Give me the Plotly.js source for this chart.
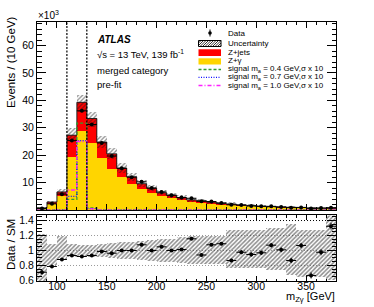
<!DOCTYPE html>
<html><head><meta charset="utf-8">
<script src="https://cdn.plot.ly/plotly-3.0.1.min.js"></script>
<style>html,body{margin:0;padding:0;background:#fff}#chart{width:374px;height:307px}</style>
</head><body><div id="chart"></div>
<script>
// ---- data (events in thousands, per 10 GeV bin) ----
const binEdges = [80,90,100,110,120,130,140,150,160,170,180,190,200,210,220,230,240,250,260,270,280,290,300,310,320,330,340,350,360,370,380];
const zGamma = [0.6,2.3,5.0,19.4,28.8,24.3,19.0,15.0,12.0,9.5,7.7,6.2,5.0,4.3,3.6,3.0,2.7,2.3,1.9,1.75,1.5,1.3,1.15,1.0,0.9,0.82,0.74,0.66,0.6,0.54];
const zJets  = [0.2,0.6,1.6,7.9,10.5,9.1,5.8,5.5,3.3,2.6,1.9,1.8,1.3,1.1,0.9,0.7,0.7,0.6,0.5,0.45,0.35,0.3,0.25,0.25,0.2,0.18,0.16,0.14,0.12,0.11];
const dataVals = [0.55,2.25,5.8,25.4,36.2,31.2,24.5,19.7,15.2,12.0,10.3,8.0,6.6,5.4,4.55,4.3,3.2,3.1,2.6,1.9,1.8,1.5,1.35,1.35,1.1,0.87,0.96,0.53,0.7,0.86];
const uncUp   = [0.22,0.09,0.19,0.09,0.07,0.07,0.09,0.10,0.11,0.12,0.13,0.14,0.15,0.16,0.18,0.20,0.20,0.20,0.20,0.28,0.28,0.28,0.28,0.30,0.30,0.35,0.27,0.27,0.27,0.47];
const uncDown = [0.45,0.20,0.13,0.09,0.09,0.09,0.09,0.10,0.11,0.12,0.13,0.14,0.15,0.16,0.17,0.18,0.18,0.18,0.18,0.24,0.24,0.24,0.24,0.26,0.26,0.33,0.36,0.36,0.36,0.40];
const ratioVals = [0.71,0.787,0.88,0.933,0.92,0.933,0.987,0.964,1.0,1.0,1.076,1.0,1.049,1.0,1.013,1.156,0.94,1.076,1.09,0.867,0.977,0.947,0.969,1.071,1.009,0.867,1.067,0.667,0.977,1.324];
const ratioErr = [0.03,0.015,0.01,0.006,0.005,0.006,0.007,0.008,0.009,0.01,0.011,0.012,0.013,0.014,0.015,0.016,0.018,0.019,0.02,0.023,0.025,0.027,0.029,0.03,0.032,0.035,0.035,0.04,0.04,0.045];
const sig04 = [0,0,0,3.9,31.7,0.8,0,0,0,0,0,0,0,0,0,0,0,0,0,0,0,0,0,0,0,0,0,0,0,0];
const sig07 = [0,0,0,5.0,25.3,0.5,0,0,0,0,0,0,0,0,0,0,0,0,0,0,0,0,0,0,0,0,0,0,0,0];
const sig10 = [0,0,0,7.3,25.0,0.4,0,0,0,0,0,0,0,0,0,0,0,0,0,0,0,0,0,0,0,0,0,0,0,0];
const srWindow = [110,130];
const yTicks = [10,20,30,40,50,60];
const yTickText = ['10','20','30','40','50','60'];
const rTicks = [0.6,0.8,1.0,1.2,1.4];
const rTickText = ['0.6','0.8','1','1.2','1.4'];
const refLines = [0.8,1.0,1.2,1.4];
const sigLabels = ['signal m<sub>a</sub> = 0.4 GeV,σ x 10','signal m<sub>a</sub> = 0.7 GeV,σ x 10','signal m<sub>a</sub> = 1.0 GeV,σ x 10'];

// ---- derived ----
const centers = binEdges.slice(0,-1).map((e,i)=>(e+binEdges[i+1])/2);
const widths = binEdges.slice(0,-1).map((e,i)=>binEdges[i+1]-e);
const total = zGamma.map((v,i)=>v+zJets[i]);
const step = arr => arr.concat([arr[arr.length-1]]);

const FONT = 'Liberation Sans, Arial, Helvetica, sans-serif';
const YEL = '#ffd500', RED = '#ff0000';
const GREEN = '#2f9e2f', BLUE = '#1010ff', MAG = '#ff20ff';
const hatch = {shape:'/', fgcolor:'#1a1a1a', size:3, solidity:0.42, fillmode:'overlay'};
const hatchR = {shape:'/', fgcolor:'#1a1a1a', size:3, solidity:0.5, fillmode:'overlay'};

const traces = [
  {type:'bar', x:centers, y:zGamma, base:0, width:widths, marker:{color:YEL, line:{width:0}}, xaxis:'x', yaxis:'y'},
  {type:'bar', x:centers, y:zJets, base:zGamma, width:widths, marker:{color:RED, line:{width:0}}, xaxis:'x', yaxis:'y'},
  {type:'bar', x:centers, y:total.map((t,i)=>t*(uncUp[i]+uncDown[i])), base:total.map((t,i)=>t*(1-uncDown[i])), width:widths,
   marker:{color:'rgba(0,0,0,0)', line:{width:0}, pattern:hatch}, xaxis:'x', yaxis:'y'},
  {type:'scatter', mode:'lines', x:binEdges, y:step(total), line:{shape:'hv', color:'#222', width:1}, xaxis:'x', yaxis:'y'},
  {type:'scatter', mode:'lines', x:binEdges, y:step(sig04), line:{shape:'hv', color:GREEN, width:1.3, dash:'3px,2px'}, xaxis:'x', yaxis:'y'},
  {type:'scatter', mode:'lines', x:binEdges, y:step(sig07), line:{shape:'hv', color:BLUE, width:1.3, dash:'1px,1.5px'}, xaxis:'x', yaxis:'y'},
  {type:'scatter', mode:'lines', x:binEdges, y:step(sig10), line:{shape:'hv', color:MAG, width:1.3, dash:'4px,2px,1px,2px'}, xaxis:'x', yaxis:'y'},
  {type:'scatter', mode:'markers', x:centers, y:dataVals, marker:{color:'#000', size:4},
   error_x:{type:'constant', value:5, width:0, thickness:1, color:'#000'}, xaxis:'x', yaxis:'y'},
  // ratio
  {type:'bar', x:centers, y:uncUp.map((u,i)=>u+uncDown[i]), base:uncDown.map(d=>1-d), width:widths,
   marker:{color:'rgba(0,0,0,0)', line:{width:0}, pattern:hatchR}, xaxis:'x2', yaxis:'y2'},
  {type:'scatter', mode:'markers', x:centers, y:ratioVals, marker:{color:'#000', size:4},
   error_x:{type:'constant', value:5, width:0, thickness:1, color:'#000'},
   error_y:{type:'data', array:ratioErr, width:0, thickness:1, color:'#000'}, xaxis:'x2', yaxis:'y2'}
];

// pixel -> paper helpers (plot area: x 37..336, y 22..281)
const L=37, R=38, T=22, B=26, W=374, H=307;
const pw = W-L-R, ph = H-T-B;
const px = v => (v-L)/pw;
const py = v => (H-B-v)/ph;

const shapes = [];
srWindow.forEach(xv => shapes.push({type:'line', xref:'x', yref:'y domain', x0:xv, x1:xv, y0:0, y1:1, line:{color:'#000', width:1.2, dash:'2px,1.5px'}}));
refLines.forEach(v => shapes.push({type:'line', xref:'x2 domain', yref:'y2', x0:0, x1:1, y0:v, y1:v, layer:'below',
  line:{color: v===1.4 ? '#000' : '#999', width:1, dash:'1px,2px'}}));

// legend symbols
const lx0 = 198.5, lx1 = 221;
shapes.push({type:'line', xref:'paper', yref:'paper', x0:px(210), x1:px(210), y0:py(29.5), y1:py(36.5), line:{color:'#000', width:1}});
shapes.push({type:'circle', xref:'paper', yref:'paper', x0:px(208.2), x1:px(211.8), y0:py(34.8), y1:py(31.2), fillcolor:'#000', line:{color:'#000', width:0}});
// hatched box
(function(){
  const x0=lx0, x1=lx1, y0=40.5, y1=46.5, h=y1-y0, w=x1-x0; let p='';
  for(let c=-h; c<w; c+=2.5){
    const ts=Math.max(0,-c), te=Math.min(h, w-c);
    if(te<=ts) continue;
    p += `M${px(x0+c+ts)},${py(y1-ts)} L${px(x0+c+te)},${py(y1-te)} `;
  }
  shapes.push({type:'path', xref:'paper', yref:'paper', path:p, line:{color:'#333', width:1}});
  shapes.push({type:'rect', xref:'paper', yref:'paper', x0:px(x0), x1:px(x1), y0:py(y1), y1:py(y0), line:{color:'#000', width:1}});
})();
shapes.push({type:'rect', xref:'paper', yref:'paper', x0:px(lx0), x1:px(lx1), y0:py(56), y1:py(49.3), fillcolor:RED, line:{width:0}});
shapes.push({type:'rect', xref:'paper', yref:'paper', x0:px(lx0), x1:px(lx1), y0:py(64.5), y1:py(58.3), fillcolor:YEL, line:{width:0}});
[[69.5,GREEN,'3px,2px'],[77.3,BLUE,'1px,1.5px'],[85.5,MAG,'4px,2px,1px,2px']].forEach(([yy,c,d]) =>
  shapes.push({type:'line', xref:'paper', yref:'paper', x0:px(lx0), x1:px(lx1), y0:py(yy), y1:py(yy), line:{color:c, width:1.3, dash:d}}));

const ann = (text, x, y, opts={}) => Object.assign({text, xref:'paper', yref:'paper', x:px(x), y:py(y), xanchor:'left', yanchor:'middle',
  showarrow:false, font:{family:FONT, size:8, color:'#000'}}, opts);
const annotations = [
  ann('Data', 225.5, 33.3),
  ann('Uncertainty', 225.5, 43.3),
  ann('Z+jets', 225.5, 52.3),
  ann('Z+γ', 225.5, 60.8),
  ann(sigLabels[0], 225.5, 69),
  ann(sigLabels[1], 225.5, 77.3),
  ann(sigLabels[2], 225.5, 85.7),
  ann('<b><i>ATLAS</i></b>', 95, 40, {font:{family:FONT, size:10, color:'#000'}}),
  ann('√s = 13 TeV, 139 fb<sup>-1</sup>', 95, 54, {font:{family:FONT, size:9.5, color:'#000'}}),
  ann('merged category', 95, 70, {font:{family:FONT, size:9.5, color:'#000'}}),
  ann('pre-fit', 95, 84, {font:{family:FONT, size:9.5, color:'#000'}}),
  ann('×10<sup>3</sup>', 36, 15, {font:{family:FONT, size:10, color:'#000'}}),
  ann('Events / (10 GeV)', 11, 62, {xanchor:'center', textangle:-90, font:{family:FONT, size:11.5, color:'#000'}}),
  ann('Data / SM', 11, 245, {xanchor:'center', textangle:-90, font:{family:FONT, size:11.5, color:'#000'}}),
  ann('m<sub>Zγ</sub> [GeV]', 337, 297, {xanchor:'right', font:{family:FONT, size:11, color:'#000'}})
];

const axBase = {showline:true, linecolor:'#000', linewidth:1, mirror:'ticks', ticks:'inside', tickcolor:'#000', tickwidth:1,
  showgrid:false, zeroline:false, tickfont:{family:FONT, size:10.5, color:'#000'}};

const layout = {
  width:W, height:H, margin:{l:L, r:R, t:T, b:B}, paper_bgcolor:'#fff', plot_bgcolor:'#fff',
  showlegend:false, barmode:'overlay', bargap:0, font:{family:FONT, color:'#000'},
  xaxis: Object.assign({}, axBase, {domain:[0,1], anchor:'y', range:[80,380], tick0:0, dtick:50, ticklen:6, showticklabels:false,
    minor:{dtick:10, ticklen:3, ticks:'inside', tickcolor:'#000'}}),
  xaxis2: Object.assign({}, axBase, {domain:[0,1], anchor:'y2', matches:'x', range:[80,380], tick0:0, dtick:50, ticklen:5, ticklabelstandoff:-5,
    minor:{dtick:10, ticklen:2.5, ticks:'inside', tickcolor:'#000'}}),
  yaxis: Object.assign({}, axBase, {domain:[0.274,1], anchor:'x', range:[0,68.6], tickmode:'array', tickvals:yTicks, ticktext:yTickText, ticklen:9,
    minor:{tick0:0, dtick:2, ticklen:4.5, ticks:'inside', tickcolor:'#000'}}),
  yaxis2: Object.assign({}, axBase, {domain:[0,0.2529], anchor:'x2', range:[0.593,1.467], tickmode:'array', tickvals:rTicks, ticktext:rTickText, ticklen:9,
    minor:{tick0:0, dtick:0.05, ticklen:4.5, ticks:'inside', tickcolor:'#000'}}),
  shapes, annotations
};

Plotly.newPlot('chart', traces, layout, {staticPlot:true, displayModeBar:false});
</script>
</body></html>
